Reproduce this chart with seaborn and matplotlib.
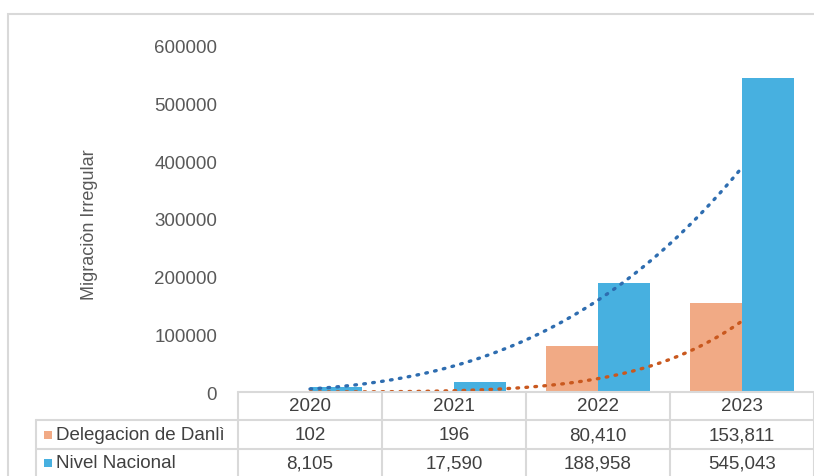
import numpy as np
import pandas as pd
import matplotlib
matplotlib.use("Agg")
import matplotlib.pyplot as plt
import seaborn as sns
from matplotlib.transforms import blended_transform_factory
from matplotlib.patches import Rectangle

years = ["2020", "2021", "2022", "2023"]
danli = [102, 196, 80410, 153811]
nacional = [8105, 17590, 188958, 545043]
series_names = ["Delegacion de Danlì", "Nivel Nacional"]
danli_labels = ["102", "196", "80,410", "153,811"]
nacional_labels = ["8,105", "17,590", "188,958", "545,043"]
yticks = [0, 100000, 200000, 300000, 400000, 500000, 600000]

c_orange = "#F1AA85"
c_blue = "#47B0E0"
c_trend_orange = "#C9581E"
c_trend_blue = "#2E6DB0"
grid_c = "#D9D9D9"
txt_c = "#404040"
tick_c = "#595959"

sns.set_style("white")
plt.rcParams["font.family"] = ["Liberation Sans", "DejaVu Sans"]

W, H = 814, 477
fig = plt.figure(figsize=(W / 100, H / 100), dpi=100)

def fx(px):
    return px / W

def fy(py):
    return 1 - py / H

ax_left, ax_right, ax_top, ax_bot = 238, 814, 47, 393
ax = fig.add_axes([fx(ax_left), fy(ax_bot), fx(ax_right - ax_left), (ax_bot - ax_top) / H])

df = pd.DataFrame({
    "year": years * 2,
    "value": danli + nacional,
    "series": [series_names[0]] * 4 + [series_names[1]] * 4,
})
sns.barplot(data=df, x="year", y="value", hue="series", hue_order=series_names,
            palette=[c_orange, c_blue], width=0.72, ax=ax, legend=False,
            saturation=1, linewidth=0)

# power trendlines (fit y = a * x^b, x = 1..n)
xs = np.arange(1, len(years) + 1)
xf = np.linspace(1, len(years), 200)
for vals, col in [(nacional, c_trend_blue), (danli, c_trend_orange)]:
    b, lna = np.polyfit(np.log(xs), np.log(vals), 1)
    yf = np.exp(lna) * xf ** b
    ax.plot(xf - 1, yf, linestyle=(0, (0.5, 2.2)), color=col, linewidth=2.4,
            dash_capstyle="round", zorder=5)

ax.set_xlim(-0.5, 3.5)
ax.set_ylim(0, 600000)
ax.set_yticks(yticks)
ax.set_yticklabels([str(t) for t in yticks])
ax.set_xticks([])
ax.set_xlabel("")
ax.set_ylabel("")
ax.tick_params(axis="y", length=0, pad=15, labelsize=13.5, labelcolor=tick_c)
for s in ax.spines.values():
    s.set_visible(False)
ax.patch.set_alpha(0)

fig.text(fx(90), fy(225), "Migraciòn Irregular", rotation=90, ha="center", va="center",
         fontsize=13, color=tick_c)

# outer border
fig.add_artist(Rectangle((fx(8), fy(480)), fx(820), (480 - 15) / H, transform=fig.transFigure,
                         fill=False, edgecolor=grid_c, linewidth=1.5))

# data table
tr = blended_transform_factory(ax.transData, fig.transFigure)
bounds = [-0.5, 0.5, 1.5, 2.5, 3.5]
row_lines = [393, 421, 450]
for i, yl in enumerate(row_lines):
    x0 = fx(ax_left) if i == 0 else fx(36)
    fig.add_artist(plt.Line2D([x0, fx(813)], [fy(yl), fy(yl)], transform=fig.transFigure,
                              color=grid_c, linewidth=1.5))
for bx in bounds:
    fig.add_artist(plt.Line2D([bx, bx], [fy(393), fy(480)], transform=tr,
                              color=grid_c, linewidth=1.5, clip_on=False))
fig.add_artist(plt.Line2D([fx(36), fx(36)], [fy(421), fy(480)], transform=fig.transFigure,
                          color=grid_c, linewidth=1.5))

row_y = [407, 436, 464]
for i, yr in enumerate(years):
    fig.text(i, fy(row_y[0]), yr, transform=tr, ha="center", va="center", fontsize=13.5, color=txt_c)
    fig.text(i, fy(row_y[1]), danli_labels[i], transform=tr, ha="center", va="center", fontsize=13.5, color=txt_c)
    fig.text(i, fy(row_y[2]), nacional_labels[i], transform=tr, ha="center", va="center", fontsize=13.5, color=txt_c)

for name, col, ry in [(series_names[0], c_orange, row_y[1]), (series_names[1], c_blue, row_y[2])]:
    fig.add_artist(Rectangle((fx(44), fy(ry + 4)), fx(8), 8 / H, transform=fig.transFigure,
                             facecolor=col, edgecolor="none"))
    fig.text(fx(56), fy(ry), name, ha="left", va="center", fontsize=13.5, color=txt_c)

fig.savefig("out.png", dpi=100, facecolor="white")
